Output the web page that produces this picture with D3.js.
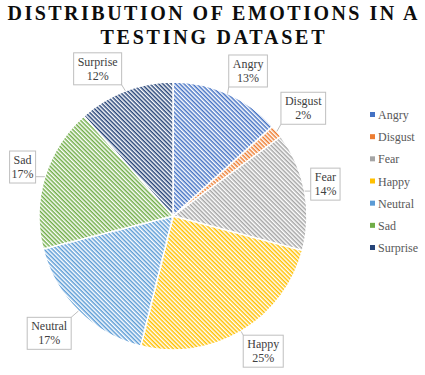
<!DOCTYPE html>
<html>
<head>
<meta charset="UTF-8">
<script src="https://cdnjs.cloudflare.com/ajax/libs/d3/7.8.5/d3.min.js"></script>
</head>
<body style="margin:0">
<svg id="chart" width="425" height="375"></svg>
<script>
    const emotions = ["Angry", "Disgust", "Fear", "Happy", "Neutral", "Sad", "Surprise"];
    const counts = [958, 111, 1024, 1774, 1233, 1247, 831];
    const colors = ["#4472C4", "#ED7D31", "#A5A5A5", "#FFC000", "#5B9BD5", "#70AD47", "#264478"];
    const titleLines = ["DISTRIBUTION OF EMOTIONS IN A", "TESTING DATASET"];

    // label nudges relative to a point just outside the slice (layout only)
    const labelNudge = [[14, -8], [14, -13], [5, -4], [14, 6], [-18, 11], [-7, -5], [-22, -7]];

    const width = 425, height = 375;
    const cx = 173, cy = 216, radius = 134;

    const svg = d3.select("#chart");
    const defs = svg.append("defs");

    function serif(sel) {
        return sel.attr("font-family", "Liberation Serif, serif").style("font-family", `"Liberation Serif"`);
    }

    colors.forEach((c, i) => {
        const p = defs.append("pattern")
            .attr("id", "stripe" + i)
            .attr("patternUnits", "userSpaceOnUse")
            .attr("width", 3).attr("height", 3)
            .attr("patternTransform", "rotate(45)");
        p.append("rect").attr("width", 3).attr("height", 3).attr("fill", "#fff");
        p.append("rect").attr("width", 3).attr("height", 1.5).attr("fill", c);
    });

    // title, stretched to the reference width with letter spacing
    const titleWidths = [410, 224];
    titleLines.forEach((t, i) => {
        const txt = svg.append("text")
            .attr("x", width / 2)
            .attr("y", 20 + i * 24)
            .attr("text-anchor", "middle")
            .attr("font-weight", "bold")
            .attr("font-size", 20)
            .attr("fill", "#0d0d0d")
            .call(serif)
            .text(t);
        const natural = txt.node().getComputedTextLength();
        const ls = Math.max(0, (titleWidths[i] - natural) / (t.length - 1));
        txt.attr("letter-spacing", ls).attr("x", width / 2 + ls / 2);
    });

    const total = d3.sum(counts);
    const pie = d3.pie().sort(null).value(d => d);
    const arcs = pie(counts);
    const arc = d3.arc().innerRadius(0).outerRadius(radius);

    const g = svg.append("g").attr("transform", `translate(${cx},${cy})`);

    g.selectAll("path")
        .data(arcs)
        .enter()
        .append("path")
        .attr("d", arc)
        .attr("fill", (d, i) => `url(#stripe${i})`)
        .attr("stroke", "#fff")
        .attr("stroke-width", 1.5);

    // data labels with callout boxes
    const labels = g.append("g");
    arcs.forEach((d, i) => {
        const mid = (d.startAngle + d.endAngle) / 2;
        const lx = Math.sin(mid) * (radius + 16) + labelNudge[i][0];
        const ly = -Math.cos(mid) * (radius + 16) + labelNudge[i][1];
        const px = Math.sin(mid) * radius;
        const py = -Math.cos(mid) * radius;
        const pct = Math.round(d.value / total * 100) + "%";

        const lg = labels.append("g");
        const t1 = lg.append("text")
            .attr("x", lx).attr("y", ly - 3)
            .attr("text-anchor", "middle")
            .attr("font-size", 12)
            .attr("fill", "#404040")
            .call(serif)
            .text(emotions[i]);
        lg.append("text")
            .attr("x", lx).attr("y", ly + 11)
            .attr("text-anchor", "middle")
            .attr("font-size", 12)
            .attr("fill", "#404040")
            .call(serif)
            .text(pct);

        const w = t1.node().getComputedTextLength() + 8;
        const h = 32;
        const x0 = lx - w / 2, y0 = ly - h / 2;

        // leader from nearest box edge to slice edge
        const ex = Math.max(x0, Math.min(px, x0 + w));
        const ey = Math.max(y0, Math.min(py, y0 + h));
        lg.insert("line", "text")
            .attr("x1", ex).attr("y1", ey)
            .attr("x2", px).attr("y2", py)
            .attr("stroke", "#bfbfbf")
            .attr("stroke-width", 1);
        lg.insert("rect", "text")
            .attr("x", x0).attr("y", y0)
            .attr("width", w).attr("height", h)
            .attr("fill", "#fff")
            .attr("stroke", "#bfbfbf")
            .attr("stroke-width", 1);
    });

    // legend
    const legend = svg.append("g").attr("transform", "translate(370,115)");
    const ly = d3.scalePoint().domain(emotions).range([0, 133]);
    emotions.forEach((e, i) => {
        const item = legend.append("g").attr("transform", `translate(0,${ly(e)})`);
        item.append("rect")
            .attr("x", 0).attr("y", -3)
            .attr("width", 5).attr("height", 5)
            .attr("fill", colors[i]);
        item.append("text")
            .attr("x", 8).attr("y", 4)
            .attr("font-size", 12)
            .attr("fill", "#595959")
            .call(serif)
            .text(e);
    });
</script>
</body>
</html>
